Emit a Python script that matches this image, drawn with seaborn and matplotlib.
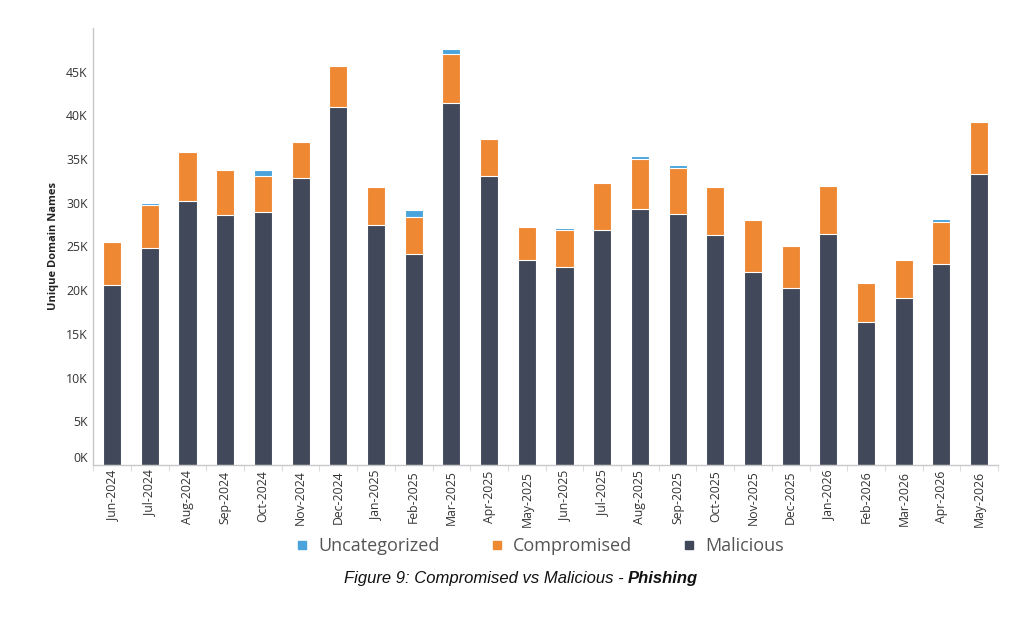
import matplotlib
matplotlib.use("Agg")
import matplotlib.pyplot as plt
import matplotlib.transforms as mtransforms
import seaborn as sns
import pandas as pd
import numpy as np
from matplotlib.lines import Line2D
from matplotlib.ticker import FuncFormatter, FixedLocator

months = ["Jun-2024", "Jul-2024", "Aug-2024", "Sep-2024", "Oct-2024", "Nov-2024",
          "Dec-2024", "Jan-2025", "Feb-2025", "Mar-2025", "Apr-2025", "May-2025",
          "Jun-2025", "Jul-2025", "Aug-2025", "Sep-2025", "Oct-2025", "Nov-2025",
          "Dec-2025", "Jan-2026", "Feb-2026", "Mar-2026", "Apr-2026", "May-2026"]
malicious = [20650, 24850, 30150, 28600, 28900, 32800, 41000, 27450, 24150, 41400,
             33100, 23470, 22670, 26830, 29300, 28700, 26300, 22070, 20300, 26450,
             16350, 19100, 22980, 33270]
compromised = [4850, 4850, 5650, 5150, 4150, 4100, 4650, 4350, 4250, 5600,
               4250, 3750, 4200, 5450, 5680, 5290, 5480, 6000, 4770, 5480,
               4460, 4370, 4820, 5930]
uncategorized = [0, 300, 0, 0, 650, 0, 0, 0, 750, 600,
                 0, 0, 200, 0, 380, 340, 0, 0, 0, 0,
                 0, 0, 300, 0]

C_MAL = "#414859"
C_COMP = "#EF8833"
C_UNC = "#4AA3DB"

df = pd.DataFrame({"month": months, "Malicious": malicious,
                   "Compromised": compromised, "Uncategorized": uncategorized})
df["mc"] = df["Malicious"] + df["Compromised"]
df["total"] = df["mc"] + df["Uncategorized"]

sns.set_theme(style="white")
plt.rcParams["font.family"] = ["Open Sans", "DejaVu Sans"]

fig = plt.figure(figsize=(10.24, 6.19), dpi=100)
ax = fig.add_axes([0.0911, 0.2488, 0.8835, 0.706])

common = dict(data=df, x="month", width=0.48, edgecolor="white", linewidth=0.8,
              ax=ax, order=months)
sns.barplot(y="total", color=C_UNC, saturation=1, **common)
sns.barplot(y="mc", color=C_COMP, saturation=1, **common)
sns.barplot(y="Malicious", color=C_MAL, saturation=1, **common)

ax.set_xlim(-0.5, len(months) - 0.5)
ax.set_ylim(0, 50000)
ax.yaxis.set_major_locator(FixedLocator(np.arange(0, 50000, 5000)))
ax.yaxis.set_major_formatter(FuncFormatter(lambda v, p: f"{v/1000:.0f}K"))
ax.set_xlabel("")
ax.set_ylabel("Unique Domain Names", fontsize=8, fontweight="bold", color="#222222", labelpad=5)
ax.tick_params(axis="y", labelsize=8.8, colors="#333333", length=0, pad=4)
ax.tick_params(axis="x", labelsize=8.8, colors="#333333", length=0, pad=4)
plt.setp(ax.get_xticklabels(), rotation=90)
ax.set_xticks(np.arange(-0.5, len(months), 1.0), minor=True)
ax.tick_params(axis="x", which="minor", length=4, color="#dddddd", width=0.8, bottom=True)

# the zero label sits slightly above the baseline, as in the reference
fig.canvas.draw()
zero_lab = ax.get_yticklabels()[0]
zero_lab.set_transform(zero_lab.get_transform() +
                       mtransforms.ScaledTranslation(0, 6 / 72, fig.dpi_scale_trans))

for s in ["top", "right"]:
    ax.spines[s].set_visible(False)
for s in ["left", "bottom"]:
    ax.spines[s].set_color("#c8c8c8")
    ax.spines[s].set_linewidth(1.0)

handles = [Line2D([], [], marker="s", linestyle="none", markersize=6, color=c)
           for c in (C_UNC, C_COMP, C_MAL)]
fig.legend(handles, ["Uncategorized", "Compromised", "Malicious"],
           loc="center", bbox_to_anchor=(0.527, 0.118), ncol=3, frameon=False,
           fontsize=13, labelcolor="#555555", columnspacing=2.75, handletextpad=0.5,
           handlelength=0.8)

renderer = fig.canvas.get_renderer()
t1 = fig.text(0, 0.065, "Figure 9: Compromised vs Malicious - ", fontsize=12,
              style="italic", family=["Liberation Sans", "DejaVu Sans"], color="#111111",
              va="center", ha="left")
t2 = fig.text(0, 0.065, "Phishing", fontsize=12, style="italic", fontweight="bold",
              family=["Liberation Sans", "DejaVu Sans"], color="#111111", va="center", ha="left")
w1 = t1.get_window_extent(renderer).width
w2 = t2.get_window_extent(renderer).width
W = fig.bbox.width
cx = 521
start = cx - (w1 + w2) / 2
t1.set_x(start / W)
t2.set_x((start + w1) / W)

fig.savefig("out.png", dpi=100)
